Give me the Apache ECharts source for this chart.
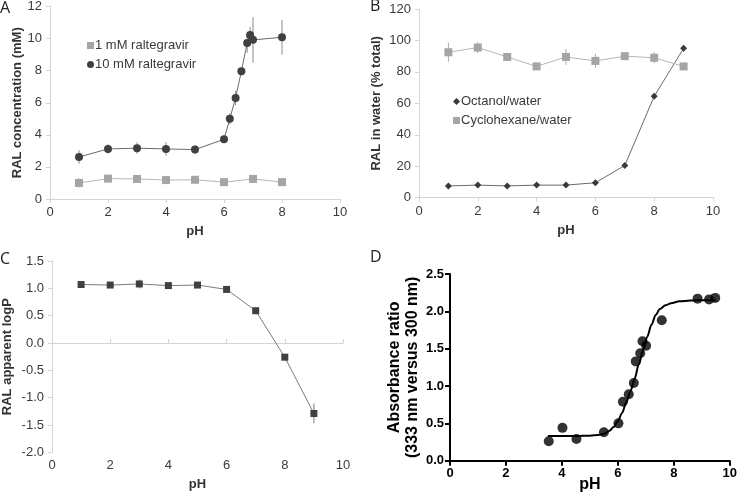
<!DOCTYPE html>
<html><head><meta charset="utf-8">
<script src="https://cdn.jsdelivr.net/npm/echarts@6/dist/echarts.min.js"></script>
<style>html,body{margin:0;padding:0;background:#fff}#c{width:740px;height:502px}</style>
</head><body><div id="c"></div>
<script>
// Panel A
const phA1 = [1,2,3,4,5,6,7,8];
const ralA1 = [1.0,1.27,1.25,1.18,1.2,1.05,1.25,1.05];
const errA1 = [0.28,0.1,0.08,0.1,0.08,0.06,0.1,0.06];
const phA10 = [1,2,3,4,5,6,6.2,6.4,6.6,6.8,6.9,7,8];
const ralA10 = [2.62,3.12,3.17,3.12,3.08,3.72,5.0,6.3,7.97,9.72,10.22,9.92,10.08];
const errA10 = [0.42,0.3,0.35,0.42,0.27,0.1,0.35,0.45,0.2,0.6,0.5,1.42,1.08];
// Panel B
const phB = [1,2,3,4,5,6,7,8,9];
const octB = [7.5,8,7.5,8,8,9.5,20.5,64.5,95];
const octErr = [0.5,0.5,0.5,0.5,0.5,0.8,1,1,2];
const cycB = [92.5,95.5,89.5,83.5,89.5,87,90,89,83.5];
const cycErr = [6,3.5,2,1,5,4.5,2,3.5,1];
// Panel C
const phC = [1,2,3,4,5,6,7,8,9];
const logpC = [1.07,1.06,1.08,1.05,1.06,0.98,0.59,-0.26,-1.29];
const errC = [0.03,0.05,0.08,0.05,0.03,0.03,0.03,0.04,0.18];
// Panel D
const phD = [3.53,4.02,4.52,5.5,6.02,6.18,6.39,6.57,6.64,6.8,6.88,7.01,7.57,8.85,9.26,9.48];
const absD = [0.26,0.44,0.29,0.38,0.50,0.79,0.89,1.04,1.33,1.44,1.60,1.54,1.88,2.17,2.16,2.18];
const curveX = [3.5,4.5,5.0,5.3,5.5,5.7,5.85,6.0,6.15,6.3,6.45,6.6,6.75,6.9,7.05,7.2,7.35,7.5,7.7,7.9,8.2,8.6,9.0,9.5];
const curveY = [0.33,0.33,0.335,0.345,0.36,0.40,0.45,0.53,0.64,0.78,0.93,1.10,1.29,1.48,1.66,1.82,1.95,2.03,2.08,2.11,2.135,2.145,2.15,2.15];

const zip = (a,b) => a.map((v,i)=>[v,b[i]]);
const zip3 = (a,b,c) => a.map((v,i)=>[v,b[i],c[i]]);

const lightAxis = '#d4d4d4';
const txt = '#3a3a3a';
const FF = 'Liberation Sans';

function errSeries(xi, yi, data, color){
  return {type:'custom', xAxisIndex:xi, yAxisIndex:yi, silent:true, z:1,
    renderItem:(p,api)=>{
      const x=api.value(0), y=api.value(1), e=api.value(2);
      const a=api.coord([x,y-e]), b=api.coord([x,y+e]);
      return {type:'line', shape:{x1:a[0],y1:a[1],x2:b[0],y2:b[1]}, style:{stroke:color,lineWidth:1}};
    }, data:data};
}
function xAx(gi, extra){
  return Object.assign({type:'value', gridIndex:gi, min:0, max:10, interval:2,
    axisLine:{lineStyle:{color:lightAxis}}, axisTick:{length:4,lineStyle:{color:lightAxis}},
    splitLine:{show:false}, axisLabel:{color:txt, fontSize:13, fontFamily:FF, margin:7},
    name:'pH', nameLocation:'middle', nameGap:26,
    nameTextStyle:{fontWeight:'bold', fontSize:13, color:'#333', fontFamily:FF}}, extra||{});
}
function yAx(gi, min, max, interval, name, extra){
  return Object.assign({type:'value', gridIndex:gi, min:min, max:max, interval:interval,
    axisLine:{show:true, lineStyle:{color:lightAxis}}, axisTick:{show:true,length:4,lineStyle:{color:lightAxis}},
    splitLine:{show:false}, axisLabel:{color:txt, fontSize:13, fontFamily:FF, margin:8},
    name:name, nameLocation:'middle', nameGap:25, nameRotate:90,
    nameTextStyle:{fontWeight:'bold', fontSize:13, color:'#333', fontFamily:FF}}, extra||{});
}

const chart = echarts.init(document.getElementById('c'), null, {renderer:'canvas'});
chart.setOption({
  animation:false,
  grid:[
    {left:50, top:6.4, width:290, height:192.6},
    {left:419, top:9, width:294, height:188.7},
    {left:49.3, top:261, width:293.7, height:191.3},
    {left:450, top:274, width:283.3, height:186.7}
  ],
  xAxis:[
    xAx(0),
    xAx(1),
    xAx(2, {axisLine:{show:false, onZero:false}, axisTick:{show:false}}),
    xAx(2, {name:'', axisLabel:{show:false}, axisLine:{show:true, onZero:true, lineStyle:{color:lightAxis}}, axisTick:{show:true, length:4, lineStyle:{color:lightAxis}}}),
    {type:'value', gridIndex:3, min:0, max:10, interval:2,
      axisLine:{onZero:false, lineStyle:{color:'#000', width:2}}, axisTick:{length:5, lineStyle:{color:'#000', width:2}},
      splitLine:{show:false}, axisLabel:{color:'#000', fontSize:13, fontWeight:'bold', fontFamily:FF, margin:6},
      name:'pH', nameLocation:'middle', nameGap:16, nameMoveOverlap:false,
      nameTextStyle:{fontWeight:'bold', fontSize:16, color:'#000', fontFamily:FF}}
  ],
  yAxis:[
    yAx(0, 0, 12, 2, 'RAL concentration (mM)'),
    yAx(1, 0, 120, 20, 'RAL in water (% total)', {nameGap:36}),
    yAx(2, -2, 1.5, 0.5, 'RAL apparent logP', {nameGap:38, axisLabel:{color:txt, fontSize:13, fontFamily:FF, margin:8, formatter:v=>v.toFixed(1)}}),
    {type:'value', gridIndex:3, min:0, max:2.5, interval:0.5,
      axisLine:{show:true, lineStyle:{color:'#000', width:2}}, axisTick:{show:true, length:5, lineStyle:{color:'#000', width:2}},
      splitLine:{show:false}, axisLabel:{color:'#000', fontSize:13, fontWeight:'bold', fontFamily:FF, margin:6, formatter:v=>v.toFixed(1)},
      name:'Absorbance ratio\n(333 nm versus 300 nm)', nameLocation:'middle', nameGap:28, nameRotate:90, nameMoveOverlap:false,
      nameTextStyle:{fontWeight:'bold', fontSize:16, color:'#000', fontFamily:FF, lineHeight:18}}
  ],
  legend:[
    {left:82, top:34, orient:'vertical', itemWidth:7, itemHeight:7, itemGap:6,
      textStyle:{fontSize:13, color:txt, fontFamily:FF, padding:[0,0,0,-4]},
      data:[{name:'1 mM raltegravir', icon:'rect'}, {name:'10 mM raltegravir', icon:'circle'}]},
    {left:448, top:90, orient:'vertical', itemWidth:7, itemHeight:7, itemGap:6,
      textStyle:{fontSize:13, color:txt, fontFamily:FF, padding:[0,0,0,-4]},
      data:[{name:'Octanol/water', icon:'diamond'}, {name:'Cyclohexane/water', icon:'rect'}]}
  ],
  graphic:[
    {type:'text', left:0, top:0, style:{text:'A', font:'16px "Open Sans", sans-serif', fill:'#222'}},
    {type:'text', left:370, top:-2, style:{text:'B', font:'16px "Open Sans", sans-serif', fill:'#222'}},
    {type:'text', left:0, top:251, style:{text:'C', font:'16px "Open Sans", sans-serif', fill:'#222'}},
    {type:'text', left:370, top:249, style:{text:'D', font:'16px "Open Sans", sans-serif', fill:'#222'}}
  ],
  series:[
    errSeries(0,0, zip3(phA1, ralA1, errA1), '#a0a0a0'),
    errSeries(0,0, zip3(phA10, ralA10, errA10), '#8a8a8a'),
    {name:'1 mM raltegravir', type:'line', xAxisIndex:0, yAxisIndex:0, data:zip(phA1, ralA1),
      symbol:'rect', symbolSize:8, itemStyle:{color:'#a5a5a5'}, lineStyle:{color:'#b5b5b5', width:1}, z:3},
    {name:'10 mM raltegravir', type:'line', xAxisIndex:0, yAxisIndex:0, data:zip(phA10, ralA10),
      symbol:'circle', symbolSize:8, itemStyle:{color:'#404040'}, lineStyle:{color:'#6a6a6a', width:1}, z:3},
    errSeries(1,1, zip3(phB, cycB, cycErr), '#a8a8a8'),
    errSeries(1,1, zip3(phB, octB, octErr), '#777'),
    {name:'Octanol/water', type:'line', xAxisIndex:1, yAxisIndex:1, data:zip(phB, octB),
      symbol:'diamond', symbolSize:7, itemStyle:{color:'#3a3a3a'}, lineStyle:{color:'#6a6a6a', width:1}, z:3},
    {name:'Cyclohexane/water', type:'line', xAxisIndex:1, yAxisIndex:1, data:zip(phB, cycB),
      symbol:'rect', symbolSize:8, itemStyle:{color:'#a5a5a5'}, lineStyle:{color:'#b5b5b5', width:1}, z:3},
    errSeries(2,2, zip3(phC, logpC, errC), '#777'),
    {name:'logP', type:'line', xAxisIndex:2, yAxisIndex:2, data:zip(phC, logpC),
      symbol:'rect', symbolSize:7, itemStyle:{color:'#404040'}, lineStyle:{color:'#7a7a7a', width:1}, z:3},
    {name:'fit', type:'line', xAxisIndex:4, yAxisIndex:3, data:zip(curveX, curveY), smooth:0.3, smoothMonotone:'x',
      symbol:'none', lineStyle:{color:'#000', width:2}, z:2},
    {name:'abs', type:'scatter', xAxisIndex:4, yAxisIndex:3, data:zip(phD, absD),
      symbol:'circle', symbolSize:10, itemStyle:{color:'#000'}, z:3}
  ]
});
</script></body></html>
